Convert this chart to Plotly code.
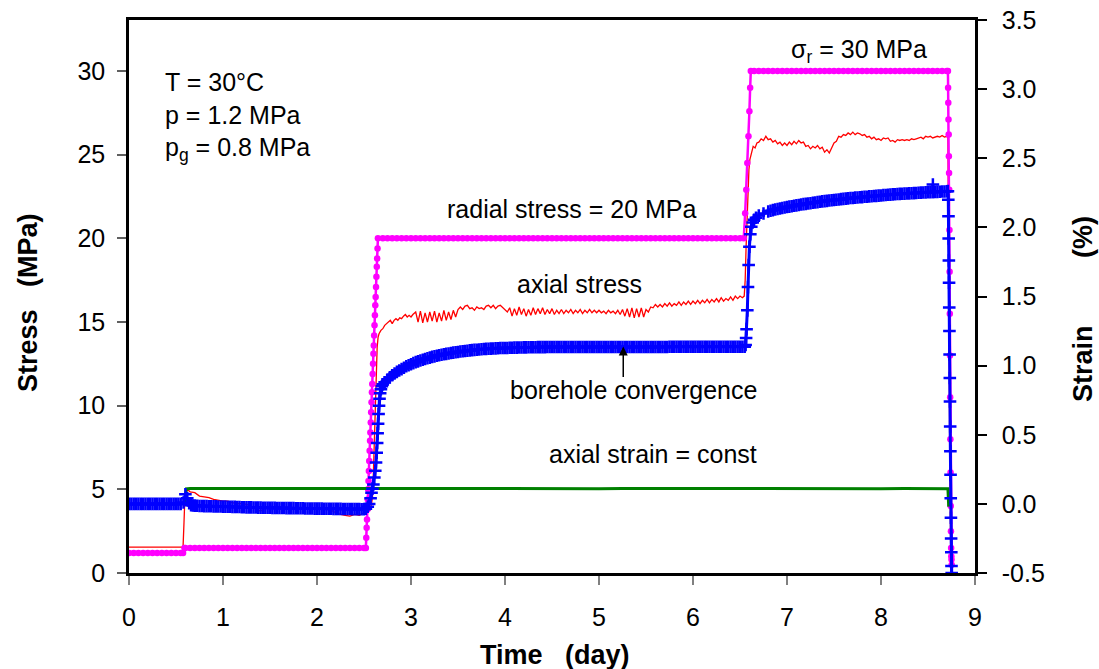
import plotly.graph_objects as go

# ---------------- data ----------------
x_ticks = [0, 1, 2, 3, 4, 5, 6, 7, 8, 9]
y_ticks = [0, 5, 10, 15, 20, 25, 30]
y2_ticks = [-0.5, 0.0, 0.5, 1.0, 1.5, 2.0, 2.5, 3.0, 3.5]
y2_ticktext = ["-0.5", "0.0", "0.5", "1.0", "1.5", "2.0", "2.5", "3.0", "3.5"]

# radial stress (MPa), left axis
t_radial = [
    0.00, 0.05, 0.10, 0.15, 0.20, 0.25, 0.30, 0.35, 0.40, 0.45, 0.50, 0.55, 0.575,
    0.59,
    0.60, 0.65, 0.70, 0.75, 0.80, 0.85, 0.90, 0.95, 1.00, 1.05, 1.10, 1.15, 1.20,
    1.25, 1.30, 1.35, 1.40, 1.45, 1.50, 1.55, 1.60, 1.65, 1.70, 1.75, 1.80, 1.85,
    1.90, 1.95, 2.00, 2.05, 2.10, 2.15, 2.20, 2.25, 2.30, 2.35, 2.40, 2.45, 2.50,
    2.520, 2.524, 2.528, 2.532, 2.536, 2.540, 2.544, 2.548, 2.552, 2.556, 2.560,
    2.564, 2.568, 2.572, 2.576, 2.580, 2.584, 2.588, 2.592, 2.596, 2.600, 2.604,
    2.608, 2.612, 2.616, 2.620, 2.624, 2.628, 2.632, 2.636, 2.640, 2.644, 2.648,
    2.70, 2.75, 2.80, 2.85, 2.90, 2.95,
    3.00, 3.05, 3.10, 3.15, 3.20, 3.25, 3.30, 3.35, 3.40, 3.45,
    3.50, 3.55, 3.60, 3.65, 3.70, 3.75, 3.80, 3.85, 3.90, 3.95,
    4.00, 4.05, 4.10, 4.15, 4.20, 4.25, 4.30, 4.35, 4.40, 4.45,
    4.50, 4.55, 4.60, 4.65, 4.70, 4.75, 4.80, 4.85, 4.90, 4.95,
    5.00, 5.05, 5.10, 5.15, 5.20, 5.25, 5.30, 5.35, 5.40, 5.45,
    5.50, 5.55, 5.60, 5.65, 5.70, 5.75, 5.80, 5.85, 5.90, 5.95,
    6.00, 6.05, 6.10, 6.15, 6.20, 6.25, 6.30, 6.35, 6.40, 6.45, 6.50,
    6.54,
    6.555, 6.567, 6.578, 6.590, 6.600, 6.608, 6.615,
    6.65, 6.70, 6.75, 6.80, 6.85, 6.90, 6.95,
    7.00, 7.05, 7.10, 7.15, 7.20, 7.25, 7.30, 7.35, 7.40, 7.45,
    7.50, 7.55, 7.60, 7.65, 7.70, 7.75, 7.80, 7.85, 7.90, 7.95,
    8.00, 8.05, 8.10, 8.15, 8.20, 8.25, 8.30, 8.35, 8.40, 8.45,
    8.50, 8.55, 8.60, 8.65, 8.70,
    8.712, 8.714, 8.716, 8.718, 8.720, 8.722, 8.724, 8.726, 8.728, 8.730,
    8.732, 8.734, 8.736, 8.738, 8.740, 8.742, 8.744, 8.746, 8.748, 8.750, 8.752,
]
s_radial = [
    1.2, 1.2, 1.2, 1.2, 1.2, 1.2, 1.2, 1.2, 1.2, 1.2, 1.2, 1.2, 1.2,
    1.5,
    1.5, 1.5, 1.5, 1.5, 1.5, 1.5, 1.5, 1.5, 1.5, 1.5, 1.5, 1.5, 1.5,
    1.5, 1.5, 1.5, 1.5, 1.5, 1.5, 1.5, 1.5, 1.5, 1.5, 1.5, 1.5, 1.5,
    1.5, 1.5, 1.5, 1.5, 1.5, 1.5, 1.5, 1.5, 1.5, 1.5, 1.5, 1.5, 1.5,
    1.5, 2.1, 2.7, 3.2, 3.8, 4.4, 5.0, 5.5, 6.1, 6.7, 7.3,
    7.9, 8.4, 9.0, 9.6, 10.2, 10.8, 11.3, 11.9, 12.5, 13.1, 13.6,
    14.2, 14.8, 15.4, 16.0, 16.5, 17.1, 17.7, 18.3, 18.8, 19.4, 20.0,
    20, 20, 20, 20, 20, 20,
    20, 20, 20, 20, 20, 20, 20, 20, 20, 20,
    20, 20, 20, 20, 20, 20, 20, 20, 20, 20,
    20, 20, 20, 20, 20, 20, 20, 20, 20, 20,
    20, 20, 20, 20, 20, 20, 20, 20, 20, 20,
    20, 20, 20, 20, 20, 20, 20, 20, 20, 20,
    20, 20, 20, 20, 20, 20, 20, 20, 20, 20,
    20, 20, 20, 20, 20, 20, 20, 20, 20, 20, 20,
    20,
    21.5, 22.9, 24.5, 26.1, 27.6, 29.0, 30.0,
    30, 30, 30, 30, 30, 30, 30,
    30, 30, 30, 30, 30, 30, 30, 30, 30, 30,
    30, 30, 30, 30, 30, 30, 30, 30, 30, 30,
    30, 30, 30, 30, 30, 30, 30, 30, 30, 30,
    30, 30, 30, 30, 30,
    30.0, 29.0, 28.1, 27.1, 26.2, 24.9, 23.9, 22.9, 20.5, 18.0,
    15.5, 13.0, 10.5, 8.0, 6.0, 4.0, 2.5, 1.5, 1.0, 0.8, 0.5,
]

# axial stress (MPa), left axis
t_axial = [
    0.00, 0.05, 0.10, 0.15, 0.20, 0.25, 0.30, 0.35, 0.40, 0.45, 0.50, 0.55,
    0.575, 0.585, 0.595, 0.62,
    0.65, 0.70, 0.75, 0.80, 0.85, 0.90, 0.95, 1.00, 1.05, 1.10,
    1.15, 1.20, 1.25, 1.30, 1.35, 1.40, 1.45, 1.50, 1.55, 1.60,
    1.65, 1.70, 1.75, 1.80, 1.85, 1.90, 1.95, 2.00, 2.05, 2.10,
    2.15, 2.20, 2.25, 2.30, 2.35, 2.40, 2.45, 2.50, 2.55,
    2.57, 2.59, 2.60, 2.61, 2.62, 2.63, 2.64, 2.65, 2.66, 2.68,
    2.70, 2.72, 2.74, 2.76, 2.78, 2.80, 2.82, 2.84, 2.86, 2.88,
    2.90, 2.92, 2.94, 2.96, 2.98, 3.00, 3.02,
    3.050, 3.075, 3.100, 3.125, 3.150, 3.175, 3.200, 3.225, 3.250, 3.275,
    3.300, 3.325, 3.350, 3.375, 3.400, 3.425, 3.450, 3.475, 3.500, 3.525,
    3.550, 3.575, 3.600, 3.625, 3.650, 3.675, 3.700, 3.725, 3.750, 3.775,
    3.800, 3.825, 3.850, 3.875, 3.900, 3.925, 3.950, 3.975, 4.000, 4.025,
    4.050, 4.075, 4.100, 4.125, 4.150, 4.175, 4.200, 4.225, 4.250, 4.275,
    4.300, 4.325, 4.350, 4.375, 4.400, 4.425, 4.450, 4.475, 4.500, 4.525,
    4.550, 4.575, 4.600, 4.625, 4.650, 4.675, 4.700, 4.725, 4.750, 4.775,
    4.800, 4.825, 4.850, 4.875, 4.900, 4.925, 4.950, 4.975, 5.000, 5.025,
    5.050, 5.075, 5.100, 5.125, 5.150, 5.175, 5.200, 5.225, 5.250, 5.275,
    5.300, 5.325, 5.350, 5.375, 5.400, 5.425, 5.450, 5.475, 5.500, 5.525,
    5.550, 5.575, 5.600, 5.625, 5.650, 5.675, 5.700, 5.725, 5.750, 5.775,
    5.800, 5.825, 5.850, 5.875, 5.900, 5.925, 5.950, 5.975, 6.000, 6.025,
    6.050, 6.075, 6.100, 6.125, 6.150, 6.175, 6.200, 6.225, 6.250, 6.275,
    6.300, 6.325, 6.350, 6.375, 6.400, 6.425, 6.450, 6.475, 6.500, 6.525,
    6.545,
    6.555, 6.565, 6.575, 6.585, 6.595, 6.605, 6.62, 6.64, 6.66, 6.68,
    6.700, 6.725, 6.750, 6.775, 6.800, 6.825, 6.850, 6.875, 6.900, 6.925,
    6.950, 6.975, 7.000, 7.025, 7.050, 7.075, 7.100, 7.125, 7.150, 7.175,
    7.200, 7.225, 7.250, 7.275, 7.300, 7.325, 7.350, 7.375, 7.400, 7.425,
    7.450, 7.475, 7.500, 7.525, 7.550, 7.575, 7.600, 7.625, 7.650, 7.675,
    7.700, 7.725, 7.750, 7.775, 7.800, 7.825, 7.850, 7.875, 7.900, 7.925,
    7.950, 7.975, 8.000, 8.025, 8.050, 8.075, 8.100, 8.125, 8.150, 8.175,
    8.200, 8.225, 8.250, 8.275, 8.300, 8.325, 8.350, 8.375, 8.400, 8.425,
    8.450, 8.475, 8.500, 8.525, 8.550, 8.575, 8.600, 8.625, 8.650, 8.675,
    8.700,
    8.712, 8.718, 8.724, 8.730, 8.736, 8.742, 8.750,
]
s_axial = [
    1.55, 1.55, 1.55, 1.55, 1.55, 1.55, 1.55, 1.55, 1.55, 1.55, 1.55, 1.55,
    1.55, 3.0, 4.6, 5.0,
    4.85, 4.8, 4.6, 4.55, 4.5, 4.4, 4.35, 4.3, 4.3, 4.2,
    4.15, 4.15, 4.1, 4.0, 3.8, 3.7, 3.9, 4.0, 3.95, 3.95,
    3.9, 3.95, 3.9, 3.9, 3.85, 3.9, 3.85, 3.9, 3.85, 3.8,
    3.75, 3.6, 3.5, 3.45, 3.4, 3.5, 3.45, 3.6, 3.7,
    3.8, 4.5, 6.0, 8.0, 10.0, 12.0, 13.5, 14.1, 14.3, 14.5,
    14.6, 14.8, 14.9, 15.0, 15.1, 14.9, 15.1, 15.2, 15.1, 15.25,
    15.2, 15.35, 15.45, 15.3, 15.4, 15.3, 15.45,
    15.6, 15.0, 15.65, 14.95, 15.55, 15.0, 15.6, 15.05, 15.65, 15.0,
    15.55, 15.05, 15.7, 15.1, 15.6, 15.15, 15.7, 15.3, 15.75, 15.9,
    15.75, 15.95, 16.0, 15.8, 15.85, 15.7, 15.9, 15.8, 15.85, 15.75,
    15.95, 16.0, 15.85, 16.0, 15.8, 15.95, 16.0, 15.85, 15.75, 15.6,
    15.85, 15.35, 15.8, 15.4, 15.9, 15.45, 15.8, 15.35, 15.75, 15.4,
    15.85, 15.45, 15.8, 15.5, 15.85, 15.45, 15.75, 15.5, 15.8, 15.45,
    15.7, 15.5, 15.75, 15.5, 15.7, 15.55, 15.75, 15.5, 15.7, 15.55,
    15.75, 15.5, 15.7, 15.55, 15.75, 15.55, 15.7, 15.55, 15.7, 15.55,
    15.65, 15.5, 15.7, 15.55, 15.65, 15.5, 15.7, 15.45, 15.75, 15.35,
    15.8, 15.3, 15.85, 15.25, 15.8, 15.3, 15.85, 15.3, 15.75, 15.6,
    15.9, 15.85, 16.05, 15.9, 16.05, 15.9, 16.1, 15.95, 16.15, 15.95,
    16.1, 16.0, 16.2, 16.0, 16.2, 16.05, 16.25, 16.05, 16.25, 16.1,
    16.3, 16.1, 16.3, 16.15, 16.35, 16.15, 16.35, 16.2, 16.4, 16.2,
    16.45, 16.25, 16.4, 16.3, 16.5, 16.3, 16.55, 16.4, 16.55, 16.45,
    16.55,
    17.5, 19.5, 21.5, 23.0, 24.1, 24.7, 25.1, 25.5, 25.4, 25.7,
    25.75, 25.95, 25.85, 26.10, 25.90, 25.95, 25.75, 25.85, 25.65, 25.75,
    25.55, 25.70, 25.55, 25.75, 25.60, 25.80, 25.65, 25.85, 25.70, 25.75,
    25.50, 25.55, 25.35, 25.50, 25.40, 25.55, 25.35, 25.45, 25.15, 25.30,
    25.10, 25.45, 25.70, 25.80, 26.10, 26.05, 26.20, 26.15, 26.30, 26.20,
    26.35, 26.20, 26.30, 26.25, 26.15, 26.20, 26.05, 26.10, 25.95, 26.05,
    25.90, 25.95, 25.85, 26.00, 25.95, 26.00, 25.80, 25.85, 25.75, 25.90,
    25.85, 25.90, 25.85, 25.90, 25.85, 25.95, 25.90, 25.95, 26.00, 26.05,
    25.95, 26.10, 26.05, 26.10, 26.00, 26.05, 26.10, 26.05, 26.15, 26.05,
    26.10,
    26.0, 22.0, 15.0, 8.0, 3.0, 1.0, 0.3,
]

# borehole convergence (%), right axis
t_conv = [
    0.000, 0.025, 0.050, 0.075, 0.100, 0.125, 0.150, 0.175, 0.200, 0.225,
    0.250, 0.275, 0.300, 0.325, 0.350, 0.375, 0.400, 0.425, 0.450, 0.475,
    0.500, 0.525, 0.550,
    0.58, 0.60, 0.62, 0.64, 0.66, 0.68,
    0.700, 0.725, 0.750, 0.775, 0.800, 0.825, 0.850, 0.875,
    0.900, 0.925, 0.950, 0.975, 1.000, 1.025, 1.050, 1.075,
    1.100, 1.125, 1.150, 1.175, 1.200, 1.225, 1.250, 1.275,
    1.300, 1.325, 1.350, 1.375, 1.400, 1.425, 1.450, 1.475,
    1.500, 1.525, 1.550, 1.575, 1.600, 1.625, 1.650, 1.675,
    1.700, 1.725, 1.750, 1.775, 1.800, 1.825, 1.850, 1.875,
    1.900, 1.925, 1.950, 1.975, 2.000, 2.025, 2.050, 2.075,
    2.100, 2.125, 2.150, 2.175, 2.200, 2.225, 2.250, 2.275,
    2.300, 2.325, 2.350, 2.375, 2.400, 2.425, 2.450, 2.475,
    2.500,
    2.52, 2.54, 2.555, 2.57, 2.58, 2.59, 2.60, 2.61, 2.62, 2.628, 2.635,
    2.64, 2.645, 2.65, 2.655, 2.66, 2.665, 2.672, 2.68, 2.69, 2.70, 2.72,
    2.750, 2.775, 2.800, 2.825, 2.850, 2.875, 2.900, 2.925,
    2.950, 2.975, 3.000, 3.025, 3.050, 3.075, 3.100, 3.125,
    3.150, 3.175, 3.200, 3.225, 3.250, 3.275, 3.300, 3.325,
    3.350, 3.375, 3.400, 3.425, 3.450, 3.475, 3.500, 3.525,
    3.550, 3.575, 3.600, 3.625, 3.650, 3.675, 3.700, 3.725,
    3.750, 3.775, 3.800, 3.825, 3.850, 3.875, 3.900, 3.925,
    3.950, 3.975, 4.000, 4.025, 4.050, 4.075, 4.100, 4.125,
    4.150, 4.175, 4.200, 4.225, 4.250, 4.275, 4.300, 4.325,
    4.350, 4.375, 4.400, 4.425, 4.450, 4.475, 4.500, 4.525,
    4.550, 4.575, 4.600, 4.625, 4.650, 4.675, 4.700, 4.725,
    4.750, 4.775, 4.800, 4.825, 4.850, 4.875, 4.900, 4.925,
    4.950, 4.975, 5.000, 5.025, 5.050, 5.075, 5.100, 5.125,
    5.150, 5.175, 5.200, 5.225, 5.250, 5.275, 5.300, 5.325,
    5.350, 5.375, 5.400, 5.425, 5.450, 5.475, 5.500, 5.525,
    5.550, 5.575, 5.600, 5.625, 5.650, 5.675, 5.700, 5.725,
    5.750, 5.775, 5.800, 5.825, 5.850, 5.875, 5.900, 5.925,
    5.950, 5.975, 6.000, 6.025, 6.050, 6.075, 6.100, 6.125,
    6.150, 6.175, 6.200, 6.225, 6.250, 6.275, 6.300, 6.325,
    6.350, 6.375, 6.400, 6.425, 6.450, 6.475, 6.500, 6.525,
    6.550,
    6.56, 6.565, 6.57, 6.578, 6.585, 6.592, 6.60, 6.61, 6.62, 6.635,
    6.65, 6.67, 6.70, 6.75, 6.80,
    6.825, 6.850, 6.875, 6.900, 6.925, 6.950, 6.975, 7.000,
    7.025, 7.050, 7.075, 7.100, 7.125, 7.150, 7.175, 7.200,
    7.225, 7.250, 7.275, 7.300, 7.325, 7.350, 7.375, 7.400,
    7.425, 7.450, 7.475, 7.500, 7.525, 7.550, 7.575, 7.600,
    7.625, 7.650, 7.675, 7.700, 7.725, 7.750, 7.775, 7.800,
    7.825, 7.850, 7.875, 7.900, 7.925, 7.950, 7.975, 8.000,
    8.025, 8.050, 8.075, 8.100, 8.125, 8.150, 8.175, 8.200,
    8.225, 8.250, 8.275, 8.300, 8.325, 8.350, 8.375, 8.400,
    8.425, 8.450, 8.475, 8.500,
    8.525, 8.550, 8.552, 8.555, 8.575, 8.600, 8.625, 8.650, 8.675, 8.700,
    8.712, 8.716, 8.718, 8.720, 8.722, 8.724, 8.726, 8.728, 8.730, 8.732,
    8.734, 8.736, 8.738, 8.740, 8.742, 8.744, 8.746, 8.748, 8.750, 8.752,
]
e_conv = [
    0.0, 0.0, 0.0, 0.0, 0.0, 0.0, 0.0, 0.0, 0.0, 0.0,
    0.0, 0.0, 0.0, 0.0, 0.0, 0.0, 0.0, 0.0, 0.0, 0.0,
    0.0, 0.0, 0.0,
    0.01, 0.07, 0.04, 0.005, -0.01, -0.012,
    -0.013, -0.014, -0.015, -0.015, -0.016, -0.016, -0.017, -0.017,
    -0.018, -0.018, -0.019, -0.019, -0.020, -0.020, -0.021, -0.021,
    -0.022, -0.022, -0.023, -0.023, -0.024, -0.024, -0.025, -0.025,
    -0.025, -0.026, -0.026, -0.027, -0.027, -0.028, -0.028, -0.028,
    -0.028, -0.029, -0.029, -0.030, -0.030, -0.030, -0.030, -0.031,
    -0.031, -0.031, -0.031, -0.032, -0.032, -0.032, -0.032, -0.033,
    -0.033, -0.033, -0.033, -0.034, -0.034, -0.034, -0.034, -0.035,
    -0.035, -0.035, -0.035, -0.036, -0.036, -0.036, -0.036, -0.037,
    -0.037, -0.037, -0.037, -0.038, -0.038, -0.038, -0.038, -0.039,
    -0.039,
    -0.035, -0.02, 0.0, 0.04, 0.08, 0.11, 0.14, 0.19, 0.24, 0.30, 0.37,
    0.44, 0.51, 0.58, 0.65, 0.71, 0.76, 0.80, 0.83, 0.85, 0.865, 0.88,
    0.900, 0.915, 0.930, 0.943, 0.955, 0.965, 0.975, 0.985,
    0.995, 1.003, 1.010, 1.018, 1.025, 1.031, 1.037, 1.043,
    1.048, 1.053, 1.058, 1.063, 1.067, 1.071, 1.075, 1.079,
    1.082, 1.085, 1.088, 1.091, 1.094, 1.097, 1.099, 1.102,
    1.104, 1.106, 1.108, 1.110, 1.112, 1.114, 1.115, 1.117,
    1.118, 1.120, 1.121, 1.122, 1.123, 1.124, 1.125, 1.126,
    1.127, 1.127, 1.128, 1.128, 1.129, 1.129, 1.130, 1.130,
    1.131, 1.131, 1.132, 1.132, 1.133, 1.133, 1.133, 1.133,
    1.134, 1.134, 1.134, 1.134, 1.135, 1.135, 1.135, 1.135,
    1.135, 1.135, 1.135, 1.135, 1.135, 1.135, 1.135, 1.135,
    1.135, 1.135, 1.135, 1.135, 1.135, 1.135, 1.135, 1.135,
    1.135, 1.135, 1.135, 1.135, 1.135, 1.135, 1.135, 1.135,
    1.135, 1.135, 1.135, 1.135, 1.135, 1.135, 1.135, 1.135,
    1.135, 1.135, 1.135, 1.135, 1.135, 1.135, 1.135, 1.135,
    1.135, 1.135, 1.135, 1.135, 1.135, 1.135, 1.135, 1.135,
    1.136, 1.136, 1.136, 1.136, 1.136, 1.136, 1.136, 1.136,
    1.136, 1.136, 1.136, 1.136, 1.136, 1.136, 1.136, 1.136,
    1.136, 1.136, 1.136, 1.136, 1.136, 1.136, 1.136, 1.136,
    1.136, 1.136, 1.136, 1.136, 1.136, 1.136, 1.136, 1.136,
    1.136,
    1.15, 1.20, 1.264, 1.40, 1.568, 1.727, 1.86, 1.95, 2.004, 2.035,
    2.055, 2.07, 2.085, 2.10, 2.115,
    2.120, 2.125, 2.129, 2.133, 2.137, 2.140, 2.144, 2.147,
    2.150, 2.153, 2.156, 2.159, 2.162, 2.165, 2.168, 2.170,
    2.173, 2.175, 2.178, 2.180, 2.183, 2.185, 2.188, 2.190,
    2.192, 2.194, 2.196, 2.198, 2.200, 2.202, 2.204, 2.206,
    2.208, 2.210, 2.212, 2.213, 2.215, 2.216, 2.218, 2.219,
    2.221, 2.222, 2.224, 2.225, 2.227, 2.228, 2.230, 2.231,
    2.233, 2.234, 2.236, 2.237, 2.239, 2.240, 2.241, 2.242,
    2.243, 2.244, 2.245, 2.246, 2.247, 2.248, 2.249, 2.250,
    2.251, 2.252, 2.253, 2.254,
    2.255, 2.256, 2.31, 2.256, 2.256, 2.257, 2.258, 2.259, 2.260, 2.261,
    2.262, 2.20, 2.08, 1.92, 1.76, 1.60, 1.42, 1.25, 1.08, 0.91,
    0.74, 0.56, 0.38, 0.21, 0.04, -0.10, -0.25, -0.35, -0.45, -0.50,
]

# axial strain (%), right axis
t_axstrain = [
    0.59, 0.60, 0.61, 0.65, 0.80, 1.00,
    1.25, 1.50, 1.75, 2.00, 2.25, 2.50, 2.75, 3.00, 3.25, 3.50,
    3.75, 4.00, 4.25, 4.50, 4.75, 5.00, 5.25, 5.50, 5.75, 6.00,
    6.25, 6.50, 6.75, 7.00, 7.25, 7.50, 7.75, 8.00, 8.25, 8.50,
    8.70, 8.712, 8.716, 8.72,
]
e_axstrain = [
    0.0, 0.08, 0.108, 0.112, 0.111, 0.112,
    0.110, 0.111, 0.112, 0.111, 0.110, 0.111, 0.112, 0.111, 0.112, 0.111,
    0.110, 0.112, 0.111, 0.112, 0.111, 0.110, 0.111, 0.112, 0.111, 0.110,
    0.111, 0.112, 0.111, 0.110, 0.111, 0.112, 0.111, 0.110, 0.111, 0.110,
    0.111, 0.110, 0.05, -0.02,
]

assert len(t_radial) == len(s_radial), (len(t_radial), len(s_radial))
assert len(t_axial) == len(s_axial), (len(t_axial), len(s_axial))
assert len(t_conv) == len(e_conv), (len(t_conv), len(e_conv))
assert len(t_axstrain) == len(e_axstrain), (len(t_axstrain), len(e_axstrain))

# ---------------- figure ----------------
FONT = "Liberation Sans, Arial, sans-serif"
NB = "\u00a0"

fig = go.Figure()

fig.add_trace(go.Scatter(
    x=t_axial, y=s_axial, mode="lines", yaxis="y",
    line=dict(color="#FF0000", width=1.3), name="axial stress"))

fig.add_trace(go.Scatter(
    x=t_axstrain, y=e_axstrain, mode="lines", yaxis="y2",
    line=dict(color="#008000", width=3), name="axial strain"))

fig.add_trace(go.Scatter(
    x=t_conv, y=e_conv, mode="lines+markers", yaxis="y2",
    line=dict(color="#0000FF", width=3),
    marker=dict(symbol="cross-thin", size=9, color="#0000FF",
                line=dict(color="#0000FF", width=2.5)),
    name="borehole convergence"))

fig.add_trace(go.Scatter(
    x=t_radial, y=s_radial, mode="lines+markers", yaxis="y",
    line=dict(color="#FF00FF", width=2.5),
    marker=dict(symbol="circle", size=6.5, color="#FF00FF"),
    name="radial stress"))

text_font = dict(family=FONT, size=25, color="black")
title_font = dict(family=FONT, size=27, color="black")

annotations = [
    dict(x=0.365, y=(573 - 82) / 16.73, text="T = 30°C", xanchor="left"),
    dict(x=0.365, y=(573 - 115) / 16.73, text="p = 1.2 MPa", xanchor="left"),
    dict(x=0.365, y=(573 - 149) / 16.73, text="p<sub>g</sub> = 0.8 MPa", xanchor="left"),
    dict(x=4.71, y=(573 - 209) / 16.73, text="radial stress = 20 MPa", xanchor="center"),
    dict(x=4.79, y=(573 - 284) / 16.73, text="axial stress", xanchor="center"),
    dict(x=5.37, y=(573 - 390) / 16.73, text="borehole convergence", xanchor="center"),
    dict(x=5.575, y=(573 - 454) / 16.73, text="axial strain = const", xanchor="center"),
    dict(x=7.77, y=(573 - 51) / 16.73, text="σ<sub>r</sub> = 30 MPa", xanchor="center"),
]
ann = []
for a in annotations:
    ann.append(dict(xref="x", yref="y", showarrow=False, yanchor="middle",
                    font=text_font, **a))

# arrow pointing at the convergence curve
ann.append(dict(xref="x", yref="y", x=5.258, y=13.53, text="",
                showarrow=True, ax=0, ay=32, arrowhead=2, arrowsize=1.2,
                arrowwidth=1.5, arrowcolor="black", standoff=0, startstandoff=0))

# axis titles
ann.append(dict(xref="paper", yref="paper", x=(555 - 129) / 846, y=(573 - 655) / 553,
                text="<b>Time" + NB * 3 + "(day)</b>", showarrow=False,
                xanchor="center", yanchor="middle", font=title_font))
ann.append(dict(xref="paper", yref="paper", x=(28 - 129) / 846, y=(573 - 303) / 553,
                text="<b>Stress" + NB * 3 + "(MPa)</b>", showarrow=False, textangle=-90,
                xanchor="center", yanchor="middle", font=title_font))
ann.append(dict(xref="paper", yref="paper", x=(1083 - 129) / 846, y=(573 - 309) / 553,
                text="<b>Strain" + NB * 9 + "(%)</b>", showarrow=False, textangle=-90,
                xanchor="center", yanchor="middle", font=title_font))

fig.update_layout(
    width=1099, height=669,
    margin=dict(l=129, r=124, t=20, b=96, pad=0, autoexpand=False),
    paper_bgcolor="white", plot_bgcolor="white",
    font=dict(family=FONT, size=25, color="black"),
    showlegend=False,
    annotations=ann,
    xaxis=dict(range=[0, 9], tickvals=x_ticks, ticks="outside", ticklen=9,
               tickwidth=2, tickcolor="#808080", showline=True, mirror=True,
               linecolor="black", linewidth=2.5, showgrid=False, zeroline=False,
               automargin=False, ticklabelstandoff=11,
               tickfont=dict(family=FONT, size=25, color="black")),
    yaxis=dict(range=[0, 33.05], tickvals=y_ticks, ticks="outside", ticklen=9,
               tickwidth=1.5, tickcolor="#606060", showline=True, linecolor="black",
               linewidth=2.5, showgrid=False, zeroline=False, automargin=False,
               ticklabelstandoff=7,
               tickfont=dict(family=FONT, size=25, color="black")),
    yaxis2=dict(range=[-0.5, 3.5], tickvals=y2_ticks, ticktext=y2_ticktext,
                overlaying="y", side="right", ticks="outside", ticklen=9,
                tickwidth=1.5, tickcolor="black", showline=True, linecolor="black",
                linewidth=2.5, showgrid=False, zeroline=False, automargin=False,
                ticklabelstandoff=10,
                tickfont=dict(family=FONT, size=25, color="black")),
)

fig.write_html("out.html")
